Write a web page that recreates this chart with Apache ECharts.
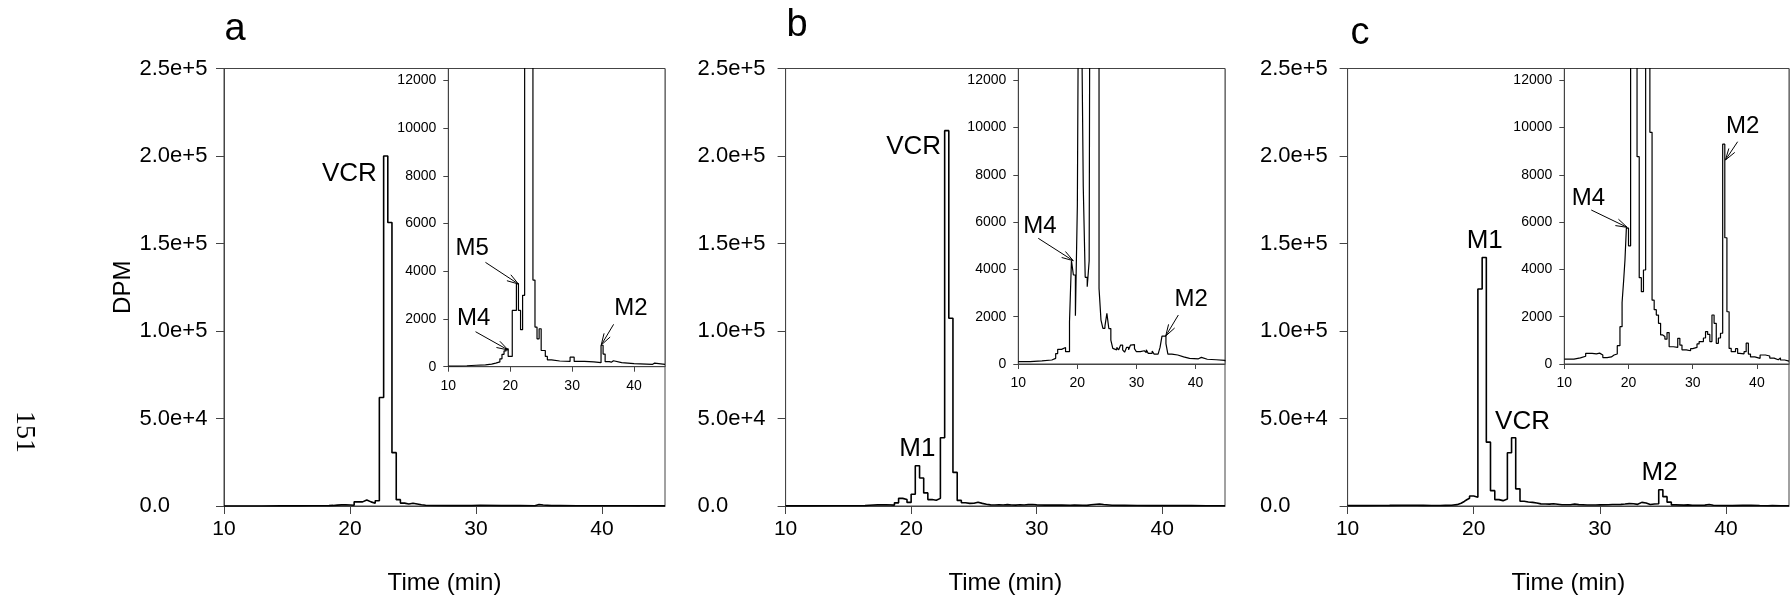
<!DOCTYPE html>
<html>
<head>
<meta charset="utf-8">
<script src="https://cdn.jsdelivr.net/npm/echarts@6/dist/echarts.min.js"></script>
<style>
html,body{margin:0;padding:0;background:#fff;}
#chart{width:1791px;height:600px;}
</style>
</head>
<body>
<div id="chart"></div>
<script>
// ---------------- data ----------------
const xTicks = [10, 20, 30, 40];
const mainYTickLabels = ['0.0', '5.0e+4', '1.0e+5', '1.5e+5', '2.0e+5', '2.5e+5'];
const insetYTicks = [0, 2000, 4000, 6000, 8000, 10000, 12000];

// Panel a (time in min, DPM) — step values, each holds until next time
const aTime = [10, 11.5, 13, 14.5, 16, 17, 17.67, 18.33, 18.67, 19.0, 19.33, 19.67, 20.33, 21.0, 21.33, 21.67, 22.0, 22.33, 22.67, 23.0, 23.33, 23.67, 24.0, 24.33, 24.67, 25.0, 25.67, 26.0, 26.67, 28.0, 29.67, 30.33, 32.0, 33.5, 34.67, 35.0, 35.33, 36.0, 36.33, 36.67, 38.0, 40.0, 42.0, 43.0, 43.33, 45];
const aDPM  = [30, 40, 60, 80, 110, 150, 200, 330, 520, 660, 750, 430, 2360, 3480, 2360, 1550, 2990, 62000, 200000, 162000, 30500, 3630, 1660, 1170, 1590, 680, 430, 290, 240, 220, 400, 220, 200, 170, 900, 530, 210, 190, 250, 170, 130, 110, 100, 150, 100, 90];

// Panel b
const bTime = [10, 12, 14, 15.67, 16.33, 16.67, 17.33, 18.0, 18.67, 19.0, 19.33, 19.67, 20.0, 20.33, 20.67, 21.0, 21.33, 21.67, 22.0, 22.33, 22.67, 23.0, 23.33, 23.67, 24.0, 24.33, 24.67, 25.0, 25.33, 25.67, 26.0, 26.33, 26.67, 27.0, 27.33, 27.67, 28.0, 28.33, 28.67, 29.0, 29.33, 29.67, 30.0, 30.67, 31.33, 31.67, 32.0, 32.67, 33.0, 33.67, 34.0, 34.33, 35.0, 35.33, 36.0, 37.0, 38.0, 39.0, 39.33, 40.5, 41.0, 42.0, 42.33, 43.5, 45];
const bDPM  = [100, 130, 170, 240, 440, 620, 700, 520, 1790, 4370, 3765, 2045, 6700, 23000, 16000, 7500, 3666, 3270, 4370, 39000, 214500, 107300, 19200, 3200, 1860, 1510, 1600, 2140, 1500, 1010, 660, 600, 700, 600, 800, 600, 500, 700, 600, 800, 820, 650, 520, 560, 480, 600, 450, 550, 420, 380, 700, 1180, 860, 420, 380, 300, 240, 300, 220, 280, 200, 250, 180, 150, 120];

// Panel c
const cTime = [10, 11.5, 12.5, 13.33, 14.33, 15.0, 15.5, 16.0, 16.67, 17.33, 17.75, 18.25, 18.67, 19.0, 19.25, 19.45, 19.67, 20.0, 20.33, 20.67, 21.0, 21.33, 21.67, 22.0, 22.33, 22.67, 23.0, 23.33, 23.67, 24.0, 24.33, 24.67, 25.0, 25.33, 25.67, 26.0, 26.33, 27.0, 27.67, 28.0, 28.33, 29.0, 29.67, 30.0, 30.67, 31.0, 31.67, 32.0, 32.33, 32.67, 33.0, 33.33, 33.67, 34.0, 34.33, 34.67, 35.0, 35.33, 35.67, 36.0, 36.67, 37.0, 37.33, 38.0, 38.33, 38.67, 39.0, 39.67, 40.5, 41.33, 42.0, 42.67, 43.33, 43.67, 44.33, 45];
const cDPM  = [210, 260, 330, 450, 430, 460, 380, 270, 300, 380, 423, 775, 1580, 2600, 3550, 4400, 5750, 5000, 124000, 142000, 36500, 8770, 3650, 3060, 3976, 30400, 39000, 9800, 2700, 2300, 2070, 1720, 1230, 1160, 1050, 1330, 730, 700, 1085, 800, 600, 560, 650, 700, 850, 950, 1100, 1370, 1250, 950, 2073, 1720, 874, 1100, 1300, 9300, 5340, 2210, 660, 520, 650, 450, 430, 520, 880, 420, 300, 240, 380, 340, 250, 180, 260, 170, 120, 100];

// Annotations (data coordinates)
const mainNotes = [
  [{ text: 'VCR', t: 19.95, v: 190000 }],
  [{ text: 'VCR', t: 20.2, v: 205000 }, { text: 'M1', t: 20.5, v: 32500 }],
  [{ text: 'M1', t: 20.87, v: 151500 }, { text: 'VCR', t: 23.87, v: 48000 }, { text: 'M2', t: 34.74, v: 18900 }]
];
const insetNotes = [
  [{ text: 'M5', t: 13.85, v: 4960 }, { text: 'M4', t: 14.1, v: 2030 }, { text: 'M2', t: 39.5, v: 2450 }],
  [{ text: 'M4', t: 13.66, v: 5810 }, { text: 'M2', t: 39.26, v: 2740 }],
  [{ text: 'M4', t: 13.75, v: 7010 }, { text: 'M2', t: 37.8, v: 10040 }]
];
const insetArrows = [
  [[16.0, 4374, 21.33, 3465], [14.4, 1467, 19.67, 700], [36.7, 1776, 34.7, 909]],
  [[13.38, 5317, 19.3, 4370], [37.1, 2073, 34.96, 1184]],
  [[14.2, 6514, 19.8, 5780], [37.0, 9403, 35.1, 8630]]
];

// ---------------- chart ----------------
const FONT = '"Liberation Sans", Arial, Helvetica, sans-serif';
const AXIS_COLOR = '#444';
const panels = [[aTime, aDPM], [bTime, bDPM], [cTime, cDPM]];
const pairs = panels.map(([t, v]) => t.map((x, i) => [x, v[i]]));

const mainGrids = [
  { left: 224, top: 68.5, width: 441, height: 440.5 },
  { left: 785.6, top: 68.5, width: 439.4, height: 440.5 },
  { left: 1347.6, top: 68.5, width: 441.4, height: 440.5 }
];
const mainLabelMargin = [84.5, 88, 87.7];
const insetGrids = [
  { left: 448.3, top: 68.5, width: 216.7, height: 298.2 },
  { left: 1018.3, top: 68.5, width: 206.7, height: 295.5 },
  { left: 1564.3, top: 68.5, width: 224.7, height: 295.5 }
];

const grid = [];
mainGrids.forEach(g => grid.push(Object.assign({ show: true, borderColor: AXIS_COLOR, borderWidth: 1, backgroundColor: '#fff' }, g)));
insetGrids.forEach(g => grid.push(Object.assign({ show: true, borderColor: AXIS_COLOR, borderWidth: 1, backgroundColor: '#fff' }, g)));

const xAxis = [], yAxis = [], series = [];
for (let i = 0; i < 3; i++) {
  xAxis.push({
    gridIndex: i, type: 'value', min: 10, max: 45,
    axisLine: { show: true, lineStyle: { color: AXIS_COLOR, width: 1 } },
    axisTick: { show: true, inside: false, length: 8, lineStyle: { color: AXIS_COLOR }, customValues: xTicks },
    axisLabel: { fontFamily: FONT, fontSize: 21, color: '#000', margin: 13, customValues: xTicks },
    splitLine: { show: false },
    name: 'Time (min)', nameLocation: 'middle', nameGap: 65,
    nameTextStyle: { fontFamily: FONT, fontSize: 24, color: '#000' }
  });
  yAxis.push({
    gridIndex: i, type: 'value', min: 0, max: 250000, interval: 50000,
    axisLine: { show: true, lineStyle: { color: AXIS_COLOR, width: 1 } },
    axisTick: { show: true, inside: false, length: 8, lineStyle: { color: AXIS_COLOR } },
    axisLabel: { fontFamily: FONT, fontSize: 22, color: '#000', margin: mainLabelMargin[i], align: 'left',
      formatter: v => mainYTickLabels[Math.round(v / 50000)] },
    splitLine: { show: false },
    name: i === 0 ? 'DPM' : '', nameLocation: 'middle', nameGap: 89,
    nameTextStyle: { fontFamily: FONT, fontSize: 24, color: '#000' }
  });
}
for (let i = 0; i < 3; i++) {
  xAxis.push({
    gridIndex: 3 + i, type: 'value', min: 10, max: 45,
    axisLine: { show: true, lineStyle: { color: AXIS_COLOR, width: 1 } },
    axisTick: { show: true, inside: false, length: 5, lineStyle: { color: AXIS_COLOR }, customValues: xTicks },
    axisLabel: { fontFamily: FONT, fontSize: 14, color: '#000', margin: 12, customValues: xTicks,
      formatter: v => String(v) },
    splitLine: { show: false }
  });
  yAxis.push({
    gridIndex: 3 + i, type: 'value', min: 0, max: 12500,
    axisLine: { show: true, lineStyle: { color: AXIS_COLOR, width: 1 } },
    axisTick: { show: true, inside: false, length: 5, lineStyle: { color: AXIS_COLOR }, customValues: insetYTicks },
    axisLabel: { fontFamily: FONT, fontSize: 14, color: '#000', margin: 12, customValues: insetYTicks,
      formatter: v => String(v) },
    splitLine: { show: false }
  });
}

function textRender(notes, size) {
  return function (params, api) {
    const p = api.coord([api.value(0), api.value(1)]);
    return { type: 'text', x: p[0], y: p[1],
      style: { text: notes[params.dataIndex].text, font: size + 'px ' + FONT, fill: '#000', align: 'center', verticalAlign: 'middle' } };
  };
}
function arrowRender(params, api) {
  const p0 = api.coord([api.value(0), api.value(1)]);
  const p1 = api.coord([api.value(2), api.value(3)]);
  const ang = Math.atan2(p1[1] - p0[1], p1[0] - p0[0]);
  const L = 12, s = 0.3;
  const h1 = [p1[0] - L * Math.cos(ang - s), p1[1] - L * Math.sin(ang - s)];
  const h2 = [p1[0] - L * Math.cos(ang + s), p1[1] - L * Math.sin(ang + s)];
  return { type: 'group', children: [
    { type: 'line', shape: { x1: p0[0], y1: p0[1], x2: p1[0], y2: p1[1] }, style: { stroke: '#000', lineWidth: 1 } },
    { type: 'polyline', shape: { points: [h1, p1, h2] }, style: { stroke: '#000', fill: null, lineWidth: 1 } }
  ] };
}

for (let i = 0; i < 3; i++) {
  series.push({ type: 'line', xAxisIndex: i, yAxisIndex: i, data: pairs[i], step: 'end',
    showSymbol: false, symbol: 'none', lineStyle: { color: '#000', width: 1.6 }, silent: true, animation: false });
  series.push({ type: 'line', xAxisIndex: 3 + i, yAxisIndex: 3 + i, data: pairs[i], step: 'end', clip: true,
    showSymbol: false, symbol: 'none', lineStyle: { color: '#000', width: 1.2 }, silent: true, animation: false, z: 5 });
  series.push({ type: 'custom', xAxisIndex: i, yAxisIndex: i, data: mainNotes[i].map(n => [n.t, n.v]),
    renderItem: textRender(mainNotes[i], 26), silent: true, animation: false, z: 6 });
  series.push({ type: 'custom', xAxisIndex: 3 + i, yAxisIndex: 3 + i, data: insetNotes[i].map(n => [n.t, n.v]),
    renderItem: textRender(insetNotes[i], 24), silent: true, animation: false, z: 6 });
  series.push({ type: 'custom', xAxisIndex: 3 + i, yAxisIndex: 3 + i, data: insetArrows[i],
    encode: { x: [0, 2], y: [1, 3] },
    renderItem: arrowRender, silent: true, animation: false, z: 6 });
}

const chart = echarts.init(document.getElementById('chart'), null, { renderer: 'canvas' });
chart.setOption({
  backgroundColor: '#fff',
  animation: false,
  grid, xAxis, yAxis, series,
  graphic: [
    { type: 'text', x: 235, y: 30, style: { text: 'a', font: '38px ' + FONT, fill: '#000', align: 'center', verticalAlign: 'middle' } },
    { type: 'text', x: 797, y: 26, style: { text: 'b', font: '38px ' + FONT, fill: '#000', align: 'center', verticalAlign: 'middle' } },
    { type: 'text', x: 1360, y: 34, style: { text: 'c', font: '38px ' + FONT, fill: '#000', align: 'center', verticalAlign: 'middle' } },
    { type: 'text', x: 24, y: 432, rotation: -Math.PI / 2,
      style: { text: '151', font: '28px "Liberation Serif", "Times New Roman", serif', fill: '#000', align: 'center', verticalAlign: 'middle' } }
  ]
});
</script>
</body>
</html>
